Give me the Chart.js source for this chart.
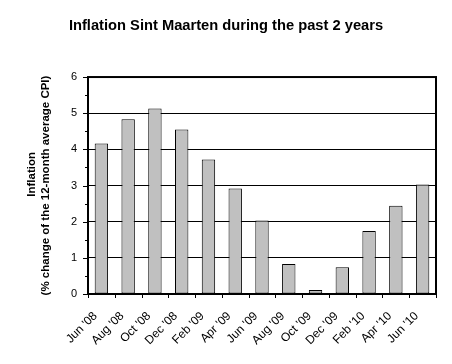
<!DOCTYPE html>
<html><head><meta charset="utf-8">
<script src="https://cdn.jsdelivr.net/npm/chart.js@4"></script>
<style>html,body{margin:0;padding:0;background:#fff}#wrap{width:452px;height:364px}</style>
</head><body><div id="wrap"><canvas id="c" width="452" height="364"></canvas></div>
<script>
const categories = ["Jun '08","Aug '08","Oct '08","Dec '08","Feb '09","Apr '09","Jun '09","Aug '09","Oct '09","Dec '09","Feb '10","Apr '10","Jun '10"];
const inflation = [4.16, 4.83, 5.13, 4.55, 3.72, 2.92, 2.03, 0.83, 0.11, 0.74, 1.74, 2.44, 3.03];
const yTicks = [0, 1, 2, 3, 4, 5, 6];
const yMinorTicks = [0.5, 1.5, 2.5, 3.5, 4.5, 5.5];
const chartTitle = "Inflation Sint Maarten during the past 2 years";
const yTitleLines = ["       Inflation", "(% change of the 12-month average CPI)"];

const FONT = "'Liberation Sans', Arial, sans-serif";

const frameTicks = {
  id: 'frameTicks',
  afterDraw(chart) {
    const {ctx, chartArea: a, scales: {x, y}} = chart;
    ctx.save();
    ctx.strokeStyle = '#000';
    ctx.lineWidth = 1;
    ctx.beginPath();
    yTicks.forEach(v => { const p = Math.round(y.getPixelForValue(v)) + 0.5; ctx.moveTo(a.left - 5, p); ctx.lineTo(a.left, p); });
    yMinorTicks.forEach(v => { const p = Math.round(y.getPixelForValue(v)) + 0.5; ctx.moveTo(a.left - 3, p); ctx.lineTo(a.left, p); });
    for (let i = 0; i <= categories.length; i++) {
      const p = Math.round(x.getPixelForValue(i - 0.5)) + 0.5;
      ctx.moveTo(p, a.bottom); ctx.lineTo(p, a.bottom + 4);
    }
    ctx.stroke();
    ctx.lineWidth = 2;
    ctx.strokeRect(a.left, a.top, a.right - a.left, a.bottom - a.top);
    ctx.restore();
  }
};

new Chart(document.getElementById('c'), {
  type: 'bar',
  data: {
    labels: categories,
    datasets: [{
      data: inflation,
      backgroundColor: '#C0C0C0',
      borderColor: '#000',
      borderWidth: 1,
      borderSkipped: false,
      categoryPercentage: 1,
      barPercentage: 0.5
    }]
  },
  options: {
    responsive: false,
    devicePixelRatio: 1,
    animation: false,
    layout: { padding: 0 },
    plugins: {
      legend: { display: false },
      tooltip: { enabled: false },
      title: {
        display: true,
        text: chartTitle,
        color: '#000',
        font: { family: FONT, size: 14.7, weight: 'bold' },
        padding: { top: 17, bottom: 42.4 }
      }
    },
    scales: {
      x: {
        grid: { display: false, drawTicks: false },
        border: { display: false },
        ticks: {
          autoSkip: false, minRotation: 45, maxRotation: 45,
          color: '#000', font: { family: FONT, size: 12 },
          padding: 15, labelOffset: -6
        },
        afterFit(s) { s.height = 70; }
      },
      y: {
        min: 0, max: 6,
        afterBuildTicks(s) { s.ticks = yTicks.map(v => ({ value: v })); },
        grid: {
          drawTicks: false,
          color: c => (c.tick && (c.tick.value === 0 || c.tick.value === 6)) ? 'rgba(0,0,0,0)' : '#000',
          lineWidth: 1
        },
        border: { display: false },
        ticks: { color: '#000', font: { family: FONT, size: 11 }, padding: 11 },
        title: {
          display: true,
          text: yTitleLines,
          color: '#000',
          font: { family: FONT, size: 11.5, weight: 'bold', lineHeight: '14px' },
          padding: { top: 25, bottom: 0 }
        },
        afterFit(s) { s.width = 88; }
      },
      yR: {
        type: 'linear',
        position: 'right',
        display: true,
        grid: { display: false, drawTicks: false },
        border: { display: false },
        ticks: { display: false },
        afterFit(s) { s.width = 16; }
      }
    }
  },
  plugins: [frameTicks]
});
</script>
</body></html>
